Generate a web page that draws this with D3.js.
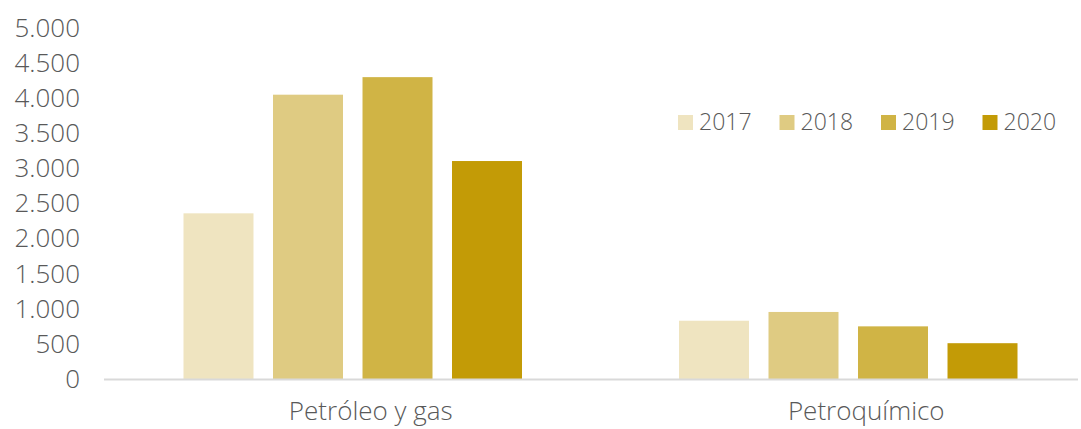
<!DOCTYPE html>
<html><head><meta charset="utf-8">
<script src="https://cdn.jsdelivr.net/npm/d3@7"></script>
<style>html,body{margin:0;padding:0;background:#fff;} svg{display:block;}</style>
</head><body>
<script>
const categories = ["Petróleo y gas", "Petroquímico"];
const years = ["2017", "2018", "2019", "2020"];
const v2017 = [2360, 830];
const v2018 = [4050, 955];
const v2019 = [4300, 750];
const v2020 = [3105, 510];
const yTicks = [0, 500, 1000, 1500, 2000, 2500, 3000, 3500, 4000, 4500, 5000];
const colors = ["#EFE4C0", "#DFCB82", "#D0B445", "#C39B06"];

const series = [v2017, v2018, v2019, v2020];
const W = 1081, H = 429;
const svg = d3.select("body").append("svg").attr("width", W).attr("height", H);
const font = "'Open Sans', sans-serif";

const y = d3.scaleLinear().domain([0, 5000]).range([379, 28]);
const x0 = d3.scaleBand().domain(categories).range([105, 1096]).paddingInner(0).paddingOuter(0);
const x1 = d3.scaleBand().domain(years).range([0, x0.bandwidth()]).paddingInner(0.218).paddingOuter(0.877);

// y axis labels
const yAxis = d3.axisLeft(y).tickValues(yTicks).tickSize(0).tickPadding(0)
  .tickFormat(d => d3.format(",")(d).replace(/,/g, "."));
const gy = svg.append("g").attr("transform", "translate(80,0)").call(yAxis);
gy.select(".domain").remove();
gy.selectAll("text").attr("font-family", font).attr("font-size", 26).attr("fill", "#595959").attr("font-weight", 300);

// bars
const rows = categories.map((c, i) => ({c, vals: years.map((yr, j) => ({yr, j, v: series[j][i]}))}));
const g = svg.append("g");
g.selectAll("g.cat").data(rows).join("g").attr("class", "cat")
  .attr("transform", d => `translate(${x0(d.c)},0)`)
  .selectAll("rect").data(d => d.vals).join("rect")
  .attr("x", d => x1(d.yr)).attr("width", x1.bandwidth())
  .attr("y", d => y(d.v)).attr("height", d => y(0) - y(d.v))
  .attr("fill", d => colors[d.j]);

// x axis
const xAxis = d3.axisBottom(x0).tickSize(0).tickPadding(23);
const gx = svg.append("g").attr("transform", `translate(0,${y(0)})`).call(xAxis);
gx.select(".domain").remove();
svg.append("line").attr("x1", 104).attr("x2", 1078).attr("y1", y(0) + 0.5).attr("y2", y(0) + 0.5)
  .attr("stroke", "#D9D9D9").attr("stroke-width", 2);
gx.selectAll("text").attr("font-family", font).attr("font-size", 26).attr("fill", "#595959")
  .attr("font-weight", 300).attr("dx", 18);

// legend
const leg = svg.append("g").attr("transform", "translate(678,115)");
const li = leg.selectAll("g").data(years).join("g").attr("transform", (d, i) => `translate(${i * 101.5},0)`);
li.append("rect").attr("width", 15).attr("height", 15).attr("fill", (d, i) => colors[i]);
li.append("text").attr("x", 21).attr("y", 15).text(d => d)
  .attr("font-family", font).attr("font-size", 23).attr("fill", "#595959").attr("font-weight", 300);
</script>
</body></html>
